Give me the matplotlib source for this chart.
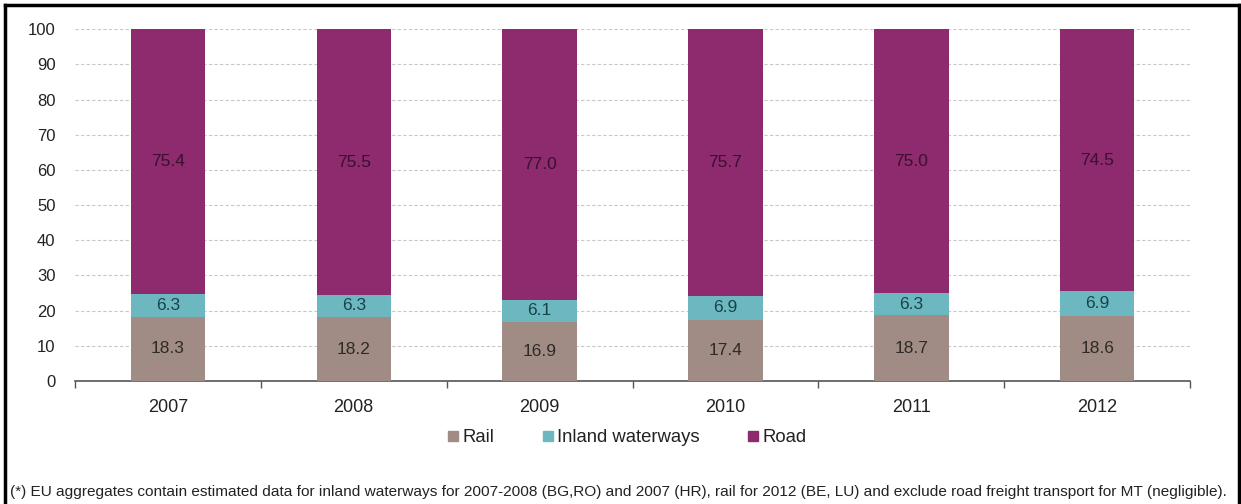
import numpy as np
import matplotlib
matplotlib.use("Agg")
import matplotlib.pyplot as plt
from matplotlib.lines import Line2D

plt.rcParams["font.family"] = ["Liberation Sans", "DejaVu Sans"]

years = ["2007", "2008", "2009", "2010", "2011", "2012"]
rail = [18.3, 18.2, 16.9, 17.4, 18.7, 18.6]
inland = [6.3, 6.3, 6.1, 6.9, 6.3, 6.9]
road = [75.4, 75.5, 77.0, 75.7, 75.0, 74.5]

series_names = ["Rail", "Inland waterways", "Road"]
colors = ["#a08c84", "#6db8c0", "#8e2a6e"]
label_colors = ["#2e2a28", "#17444a", "#3a1030"]

footnote = ("(*) EU aggregates contain estimated data for inland waterways for 2007-2008 (BG,RO) "
            "and 2007 (HR), rail for 2012 (BE, LU) and exclude road freight transport for MT (negligible).")

fig = plt.figure(figsize=(12.41, 5.04), dpi=100)
ax = fig.add_axes([0.0604, 0.244, 0.8986, 0.698])

x = np.arange(len(years))
bottom = np.zeros(len(years))
for vals, c, lc in zip([rail, inland, road], colors, label_colors):
    vals = np.array(vals)
    ax.bar(x, vals, width=0.4, bottom=bottom, color=c, zorder=3)
    for xi, b, v in zip(x, bottom, vals):
        ax.text(xi, b + v / 2, f"{v:.1f}", ha="center", va="center",
                fontsize=12.5, color=lc, zorder=4)
    bottom = bottom + vals

ax.set_xlim(-0.5, len(years) - 0.5)
ax.set_ylim(0, 100)
ax.set_yticks(np.arange(0, 101, 10))
ax.yaxis.grid(True, linestyle=(0, (3, 2)), color="#c8c8c8", linewidth=0.8, zorder=0)
ax.set_axisbelow(True)

for s in ["left", "right", "top"]:
    ax.spines[s].set_visible(False)
ax.spines["bottom"].set_color("#555555")
ax.spines["bottom"].set_linewidth(1.2)

ax.set_xticks(x)
ax.set_xticklabels(years, fontsize=13, color="#222222")
ax.tick_params(axis="x", length=0, pad=13)
ax.set_xticks(np.arange(-0.5, len(years), 1), minor=True)
ax.tick_params(axis="x", which="minor", length=5, color="#555555", width=1)
ax.tick_params(axis="y", length=0, labelsize=12, labelcolor="#222222", pad=14)

handles = [Line2D([], [], marker="s", linestyle="none", markersize=7,
                  markerfacecolor=c, markeredgecolor=c) for c in colors]
fig.legend(handles, series_names, loc="center", bbox_to_anchor=(0.504, 0.131),
           ncol=3, frameon=False, fontsize=13.3, handletextpad=0.0,
           columnspacing=2.4, handlelength=1.0, labelcolor="#222222")

fig.text(0.008, 0.024, footnote, fontsize=11.1, color="#222222", ha="left", va="center")

# thin black frame around the picture
fig.add_artist(Line2D([0.004, 0.004], [0, 0.99], color="black", linewidth=2.5,
                      transform=fig.transFigure))
fig.add_artist(Line2D([0.004, 0.998], [0.99, 0.99], color="black", linewidth=2.5,
                      transform=fig.transFigure))
fig.add_artist(Line2D([0.998, 0.998], [0, 0.99], color="black", linewidth=2.5,
                      transform=fig.transFigure))

fig.savefig("out.png", dpi=100)
